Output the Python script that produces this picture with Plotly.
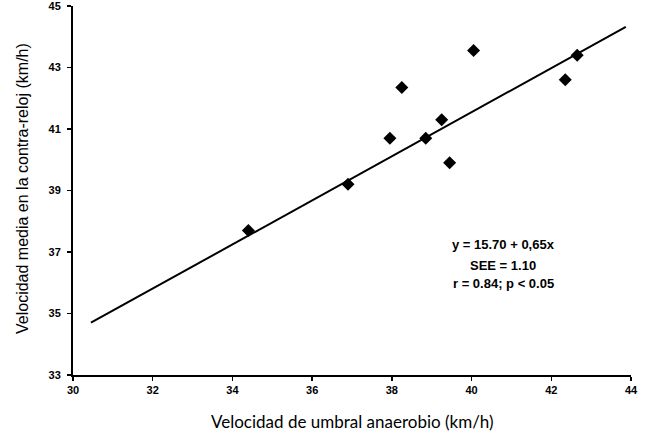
import plotly.graph_objects as go

# Data
umbral_x = [34.4, 36.9, 37.95, 38.25, 38.85, 39.25, 39.45, 40.05, 42.35, 42.65]
contrarreloj_y = [37.7, 39.2, 40.7, 42.35, 40.7, 41.3, 39.9, 43.55, 42.6, 43.4]

# Regression line endpoints as drawn in the reference
line_x = [30.45, 43.87]
line_y = [34.7, 44.32]

x_ticks = [30, 32, 34, 36, 38, 40, 42, 44]
y_ticks = [33, 35, 37, 39, 41, 43, 45]

stats_lines = ["y = 15.70 + 0,65x", "SEE = 1.10", "r = 0.84; p < 0.05"]
stats_y = [37.23, 36.55, 35.97]

x_title = "Velocidad de umbral anaerobio (km/h)"
y_title = "Velocidad media en la contra-reloj (km/h)"

W, H = 646, 439
ML, MR, MT, MB = 73, 15, 6, 64

fig = go.Figure()
fig.add_trace(go.Scatter(x=line_x, y=line_y, mode="lines",
                         line=dict(color="black", width=2), showlegend=False,
                         hoverinfo="skip", cliponaxis=False))
fig.add_trace(go.Scatter(x=umbral_x, y=contrarreloj_y, mode="markers",
                         marker=dict(symbol="diamond", size=10, color="black"),
                         showlegend=False, cliponaxis=False))

for txt, yy in zip(stats_lines, stats_y):
    fig.add_annotation(x=40.8, y=yy, xref="x", yref="y", text="<b>%s</b>" % txt,
                       showarrow=False, xanchor="center", yanchor="middle",
                       font=dict(family="Liberation Sans, Arial", size=13, color="black"))

plot_w = W - ML - MR
plot_h = H - MT - MB

# axis titles as annotations (paper coords)
fig.add_annotation(x=(352 - ML) / plot_w, y=-(421 - (H - MB)) / plot_h,
                   xref="paper", yref="paper", text=x_title, showarrow=False,
                   xanchor="center", yanchor="middle",
                   font=dict(family="Lato, Open Sans", size=17, color="black"))
fig.add_annotation(x=-(ML - 22) / plot_w, y=((H - MB) - 189) / plot_h,
                   xref="paper", yref="paper", text=y_title, showarrow=False,
                   textangle=-90, xanchor="center", yanchor="middle",
                   font=dict(family="Liberation Sans, Arial", size=16, color="black"))

axis_common = dict(showgrid=False, zeroline=False, showline=True, linecolor="black",
                   linewidth=2, ticks="outside", ticklen=4, tickwidth=1.5,
                   tickcolor="black", ticklabeloverflow="allow", automargin=False,
                   tickfont=dict(family="Liberation Sans, Arial", size=11, color="black",
                                 weight="bold"))

fig.update_xaxes(range=[30, 44], tickvals=x_ticks, ticktext=[str(v) for v in x_ticks],
                 **axis_common)
fig.update_yaxes(range=[33, 45], tickvals=y_ticks, ticktext=[str(v) for v in y_ticks],
                 ticklabelstandoff=4, **axis_common)

fig.update_layout(width=W, height=H, margin=dict(l=ML, r=MR, t=MT, b=MB, autoexpand=False),
                  plot_bgcolor="white", paper_bgcolor="white", hovermode=False)

fig.write_html("out.html", config={"displayModeBar": False, "staticPlot": True},
               post_script="document.body.style.margin='0';document.body.style.padding='0';")
